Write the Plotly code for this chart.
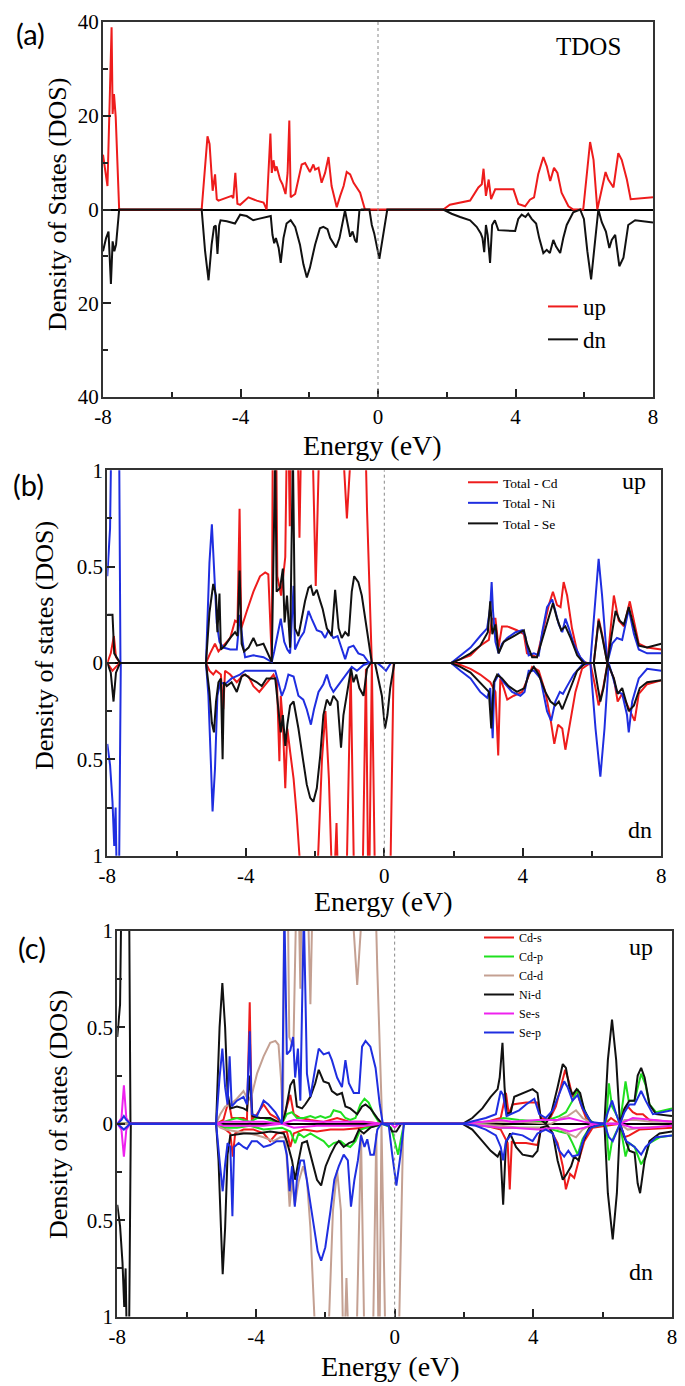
import plotly.graph_objects as go

W, H = 685, 1386
OX, OY = 8, 6  # page offset of the plot div (browser body margin)

# ---------------- data (energy eV, DOS magnitude) ----------------
# panel (a) total DOS
a_up = [(-8.0, 11.7), (-7.87, 5), (-7.75, 38.9), (-7.72, 20.4), (-7.68, 24.6), (-7.63, 19.7), (-7.53, 0),
        (-5.13, 0), (-4.96, 15.6), (-4.9, 14), (-4.81, 4), (-4.74, 7.5), (-4.69, 2.2), (-4.64, 1.9),
        (-4.26, 2.9), (-4.21, 2.4), (-4.15, 7.8), (-4.09, 1.2), (-4.01, 1.0), (-3.77, 2.6), (-3.53, 1.9),
        (-3.33, 1.5), (-3.24, 0), (-3.13, 16.2), (-3.09, 7.8), (-3.04, 10.5), (-2.99, 8.2), (-2.95, 9.2),
        (-2.85, 6.4), (-2.78, 5.4), (-2.69, 3.3), (-2.63, 7.8), (-2.58, 19), (-2.54, 2.6), (-2.41, 3.3),
        (-2.32, 6.4), (-2.22, 9.6), (-2.12, 9.9), (-1.98, 8), (-1.88, 9.6), (-1.83, 8.5), (-1.73, 8.9),
        (-1.64, 5.7), (-1.54, 7.8), (-1.44, 11.2), (-1.35, 5), (-1.25, 1.5), (-1.2, 0.5), (-1.1, 2.9),
        (-1.0, 5), (-0.91, 8), (-0.81, 7.5), (-0.71, 5.7), (-0.62, 4.7), (-0.52, 3.6), (-0.38, 0),
        (1.9, 0), (2.09, 1), (2.68, 1.9), (2.92, 4.7), (3.02, 5.4), (3.07, 8.7), (3.14, 2.9), (3.22, 6.4),
        (3.29, 2.2), (3.41, 4.3), (3.94, 4.3), (4.08, 1.2), (4.28, 0.7), (4.42, 2.1), (4.54, 2.6),
        (4.66, 7.5), (4.81, 11.2), (4.91, 9.2), (5.01, 6.1), (5.12, 8.9), (5.22, 7.8), (5.34, 3.6),
        (5.54, 0.7), (5.68, 0), (5.97, 0), (6.17, 14.4), (6.27, 10.6), (6.38, 0), (6.51, 4), (6.62, 8),
        (6.7, 6.4), (6.85, 4.7), (6.99, 12), (7.09, 10.6), (7.24, 6.4), (7.35, 2.2), (8.0, 2.6)]
a_dn = [(-8.0, 8.9), (-7.91, 6.1), (-7.84, 4.7), (-7.77, 15.9), (-7.72, 6.8), (-7.67, 8.9), (-7.62, 7.5),
        (-7.53, 0), (-5.13, 0), (-5.03, 8.9), (-4.93, 15.1), (-4.84, 7.5), (-4.77, 3.7), (-4.72, 3.4),
        (-4.67, 9.5), (-4.62, 3.4), (-4.58, 2.3), (-4.4, 2.5), (-4.16, 3.0), (-4.01, 1.1), (-3.82, 1.4),
        (-3.63, 2.3), (-3.48, 2.0), (-3.12, 1.4), (-3.07, 5.4), (-3.02, 7.2), (-2.97, 6.1), (-2.89, 8.2),
        (-2.83, 11.4), (-2.75, 6.1), (-2.66, 3.0), (-2.54, 2.3), (-2.41, 3.7), (-2.27, 7.5), (-2.17, 11.7),
        (-2.07, 14.5), (-1.98, 12.4), (-1.83, 7.5), (-1.69, 4.0), (-1.59, 3.7), (-1.47, 4.2), (-1.39, 6.1),
        (-1.22, 8.1), (-1.12, 6.1), (-0.96, 0.2), (-0.89, 2.7), (-0.81, 5.8), (-0.74, 4.7), (-0.67, 6.5),
        (-0.62, 7.0), (-0.54, 0.2), (-0.48, 0), (-0.25, 0), (-0.18, 3.3), (-0.11, 5.1), (0.04, 10.5),
        (0.16, 5.4), (0.27, 0), (1.9, 0), (2.14, 0.9), (2.39, 1.6), (2.68, 2.3), (2.87, 3.7), (2.99, 5.1),
        (3.04, 6.1), (3.09, 9.1), (3.14, 3.3), (3.19, 5.4), (3.26, 11.4), (3.32, 3.3), (3.40, 2.3),
        (3.50, 4.4), (3.99, 4.6), (4.08, 2.0), (4.18, 1.1), (4.29, 1.6), (4.37, 0.9), (4.47, 2.0), (4.6, 3.0),
        (4.69, 6.1), (4.81, 9.3), (4.91, 8.6), (5.0, 9.3), (5.1, 6.5), (5.18, 7.9), (5.3, 9.3), (5.39, 6.1),
        (5.49, 3.3), (5.68, 0.6), (5.88, 0), (5.99, 2.0), (6.09, 8.9), (6.2, 14.9), (6.29, 8.9), (6.41, 0),
        (6.51, 2.7), (6.63, 4.7), (6.73, 8.2), (6.8, 6.5), (6.9, 5.4), (7.02, 12.1), (7.14, 10.3),
        (7.28, 3.3), (7.48, 2.3), (7.72, 2.5), (8.0, 2.8)]

# panel (b) atom-resolved totals
cd_up = [(-8.0, 0.0), (-7.9, 0.05), (-7.81, 0.14), (-7.75, 0.03), (-7.63, 0.0), (-5.15, 0.0), (-5.03, 0.05),
         (-4.89, 0.1), (-4.79, 0.06), (-4.65, 0.09), (-4.45, 0.13), (-4.31, 0.22), (-4.24, 0.21), (-4.18, 0.8),
         (-4.13, 0.18), (-3.97, 0.27), (-3.78, 0.37), (-3.59, 0.45), (-3.44, 0.47), (-3.35, 0.46), (-3.3, 0.26),
         (-3.25, 0.02), (-3.21, 1.6), (-3.14, 1.6), (-3.09, 0.45), (-2.98, 0.35), (-2.86, 0.55), (-2.79, 1.5),
         (-2.73, 0.71), (-2.68, 1.6), (-2.55, 1.6), (-2.45, 0.65), (-2.36, 1.6), (-2.2, 1.6), (-2.08, 1.2),
         (-1.98, 0.4), (-1.87, 1.2), (-1.75, 1.6), (-1.45, 1.6), (-1.25, 1.3), (-1.08, 0.75), (-0.95, 1.3),
         (-0.8, 1.6), (-0.6, 1.6), (-0.5, 0.8), (-0.36, 0.0), (1.93, 0.0), (2.2, 0.02), (2.49, 0.04),
         (2.77, 0.09), (3.02, 0.12), (3.11, 0.23), (3.21, 0.23), (3.3, 0.08), (3.4, 0.19), (3.55, 0.19),
         (3.83, 0.17), (4.03, 0.15), (4.12, 0.05), (4.27, 0.04), (4.41, 0.03), (4.6, 0.18), (4.75, 0.3),
         (4.87, 0.37), (4.99, 0.3), (5.09, 0.29), (5.18, 0.42), (5.28, 0.35), (5.42, 0.18), (5.57, 0.06),
         (5.71, 0.01), (5.86, 0.0), (6.05, 0.0), (6.19, 0.23), (6.29, 0.15), (6.44, 0.0), (6.53, 0.18),
         (6.63, 0.35), (6.77, 0.22), (6.92, 0.19), (7.09, 0.32), (7.21, 0.22), (7.35, 0.1), (7.59, 0.08),
         (8.0, 0.07)]
cd_dn = [(-8.0, 0.0), (-7.85, 0.04), (-7.75, 0.02), (-7.63, 0.0), (-5.15, 0.0), (-5.05, 0.04), (-4.94, 0.06),
         (-4.86, 0.04), (-4.72, 0.06), (-4.65, 0.24), (-4.6, 0.04), (-4.45, 0.06), (-4.26, 0.1), (-4.07, 0.06),
         (-3.92, 0.07), (-3.78, 0.12), (-3.61, 0.15), (-3.44, 0.11), (-3.3, 0.08), (-3.2, 0.06), (-3.1, 0.1),
         (-3.03, 0.51), (-2.99, 0.17), (-2.93, 0.31), (-2.86, 0.65), (-2.8, 0.34), (-2.72, 0.46), (-2.62, 0.6),
         (-2.53, 0.79), (-2.43, 1.1), (-2.3, 1.4), (-2.0, 1.4), (-1.8, 0.5), (-1.7, 0.25), (-1.6, 0.6),
         (-1.48, 1.3), (-1.38, 0.83), (-1.3, 1.4), (-1.12, 1.4), (-0.97, 0.03), (-0.85, 1.4), (-0.65, 1.4),
         (-0.53, 0.03), (-0.45, 1.4), (-0.36, 0.0), (-0.28, 1.0), (-0.2, 1.4), (0.15, 1.4), (0.27, 0.0),
         (1.93, 0.0), (2.2, 0.01), (2.49, 0.03), (2.77, 0.06), (3.06, 0.1), (3.21, 0.15), (3.29, 0.48),
         (3.35, 0.08), (3.45, 0.13), (3.55, 0.19), (3.74, 0.17), (3.98, 0.15), (4.12, 0.09), (4.27, 0.02),
         (4.46, 0.04), (4.65, 0.15), (4.8, 0.29), (4.91, 0.42), (5.02, 0.32), (5.14, 0.34), (5.23, 0.45),
         (5.36, 0.32), (5.52, 0.15), (5.71, 0.03), (5.95, 0.0), (6.1, 0.13), (6.19, 0.22), (6.32, 0.13),
         (6.45, 0.0), (6.63, 0.08), (6.74, 0.2), (6.87, 0.16), (7.06, 0.23), (7.23, 0.3), (7.35, 0.16),
         (7.59, 0.11), (8.0, 0.09)]
ni_up = [(-8.0, 0.45), (-7.92, 0.7), (-7.86, 1.5), (-7.75, 2.0), (-7.66, 1.2), (-7.62, 0.0), (-5.15, 0.0),
         (-5.05, 0.52), (-4.98, 0.72), (-4.92, 0.52), (-4.84, 0.21), (-4.76, 0.11), (-4.65, 0.08), (-4.45, 0.07),
         (-4.26, 0.07), (-4.17, 0.25), (-4.09, 0.11), (-4.02, 0.03), (-3.78, 0.04), (-3.49, 0.03), (-3.25, 0.005),
         (-3.18, 0.06), (-3.1, 0.14), (-2.99, 0.23), (-2.89, 0.11), (-2.8, 0.07), (-2.72, 0.05), (-2.62, 0.4),
         (-2.58, 0.07), (-2.43, 0.13), (-2.32, 0.16), (-2.19, 0.27), (-2.1, 0.23), (-1.95, 0.17), (-1.81, 0.16),
         (-1.71, 0.13), (-1.61, 0.17), (-1.47, 0.13), (-1.35, 0.14), (-1.23, 0.07), (-1.13, 0.02), (-1.03, 0.08),
         (-0.89, 0.09), (-0.75, 0.05), (-0.6, 0.04), (-0.46, 0.005), (-0.36, 0.0), (1.93, 0.0), (2.2, 0.04),
         (2.49, 0.08), (2.77, 0.14), (2.97, 0.18), (3.06, 0.29), (3.1, 0.42), (3.14, 0.27), (3.21, 0.11),
         (3.3, 0.05), (3.4, 0.1), (3.55, 0.13), (3.79, 0.16), (3.98, 0.17), (4.07, 0.14), (4.17, 0.04),
         (4.32, 0.05), (4.46, 0.04), (4.56, 0.16), (4.7, 0.29), (4.85, 0.33), (4.94, 0.27), (5.04, 0.2),
         (5.14, 0.16), (5.23, 0.23), (5.33, 0.18), (5.47, 0.1), (5.66, 0.03), (5.81, 0.0), (5.95, 0.0),
         (6.1, 0.35), (6.19, 0.54), (6.29, 0.35), (6.44, 0.0), (6.58, 0.1), (6.72, 0.13), (6.87, 0.12),
         (7.06, 0.28), (7.21, 0.15), (7.35, 0.07), (7.59, 0.05), (8.0, 0.05)]
ni_dn = [(-8.0, 0.42), (-7.92, 0.53), (-7.85, 0.72), (-7.8, 0.95), (-7.76, 0.75), (-7.72, 1.2), (-7.66, 1.1),
         (-7.61, 0.0), (-5.15, 0.0), (-5.08, 0.17), (-5.01, 0.51), (-4.96, 0.77), (-4.89, 0.55), (-4.82, 0.17),
         (-4.74, 0.1), (-4.6, 0.11), (-4.41, 0.08), (-4.17, 0.06), (-4.02, 0.04), (-3.78, 0.04), (-3.49, 0.04),
         (-3.15, 0.04), (-3.06, 0.1), (-2.96, 0.17), (-2.87, 0.13), (-2.77, 0.06), (-2.62, 0.07), (-2.48, 0.17),
         (-2.34, 0.19), (-2.24, 0.24), (-2.12, 0.32), (-2.03, 0.24), (-1.9, 0.15), (-1.76, 0.11), (-1.66, 0.06),
         (-1.56, 0.12), (-1.47, 0.15), (-1.35, 0.12), (-1.23, 0.09), (-1.08, 0.05), (-0.94, 0.02), (-0.79, 0.04),
         (-0.6, 0.01), (-0.43, 0.0), (-0.2, 0.0), (-0.07, 0.02), (0.05, 0.04), (0.19, 0.0), (1.93, 0.0),
         (2.2, 0.04), (2.49, 0.08), (2.77, 0.15), (2.97, 0.18), (3.06, 0.13), (3.13, 0.39), (3.18, 0.1),
         (3.3, 0.06), (3.45, 0.1), (3.69, 0.15), (3.93, 0.17), (4.05, 0.15), (4.17, 0.04), (4.32, 0.04),
         (4.51, 0.08), (4.7, 0.25), (4.82, 0.3), (4.94, 0.2), (5.07, 0.15), (5.16, 0.16), (5.28, 0.12),
         (5.47, 0.06), (5.71, 0.01), (5.95, 0.0), (6.1, 0.34), (6.24, 0.59), (6.36, 0.34), (6.48, 0.0),
         (6.58, 0.06), (6.72, 0.15), (6.87, 0.16), (7.01, 0.27), (7.06, 0.36), (7.16, 0.2), (7.35, 0.08),
         (7.59, 0.03), (8.0, 0.04)]
se_up = [(-8.0, 0.25), (-7.85, 0.25), (-7.8, 0.05), (-7.7, 0.02), (-7.63, 0.0), (-5.15, 0.0), (-5.05, 0.26),
         (-4.94, 0.41), (-4.86, 0.35), (-4.82, 0.16), (-4.76, 0.36), (-4.72, 0.07), (-4.6, 0.09), (-4.45, 0.13),
         (-4.31, 0.16), (-4.24, 0.14), (-4.18, 0.48), (-4.12, 0.1), (-4.05, 0.06), (-3.92, 0.08), (-3.78, 0.13),
         (-3.68, 0.09), (-3.49, 0.1), (-3.25, 0.005), (-3.15, 1.1), (-3.11, 0.37), (-3.01, 0.39), (-2.93, 0.49),
         (-2.88, 0.21), (-2.81, 0.35), (-2.72, 0.08), (-2.64, 1.1), (-2.58, 0.18), (-2.48, 0.14), (-2.38, 0.23),
         (-2.29, 0.32), (-2.19, 0.39), (-2.12, 0.4), (-2.05, 0.35), (-1.95, 0.38), (-1.85, 0.32), (-1.78, 0.28),
         (-1.66, 0.18), (-1.52, 0.14), (-1.42, 0.38), (-1.32, 0.18), (-1.23, 0.13), (-1.13, 0.16), (-1.03, 0.14),
         (-0.94, 0.37), (-0.87, 0.45), (-0.75, 0.42), (-0.65, 0.35), (-0.51, 0.18), (-0.36, 0.0), (1.93, 0.0),
         (2.2, 0.02), (2.49, 0.05), (2.77, 0.09), (2.99, 0.16), (3.06, 0.32), (3.12, 0.15), (3.21, 0.2),
         (3.3, 0.05), (3.45, 0.11), (3.74, 0.14), (4.03, 0.17), (4.12, 0.1), (4.27, 0.03), (4.41, 0.03),
         (4.6, 0.15), (4.75, 0.24), (4.87, 0.31), (4.99, 0.23), (5.11, 0.17), (5.23, 0.19), (5.38, 0.13),
         (5.57, 0.04), (5.76, 0.0), (6.05, 0.0), (6.19, 0.22), (6.29, 0.14), (6.44, 0.0), (6.58, 0.16),
         (6.68, 0.27), (6.8, 0.22), (6.92, 0.2), (7.06, 0.29), (7.19, 0.2), (7.35, 0.09), (7.59, 0.08),
         (8.0, 0.1)]
se_dn = [(-8.0, 0.0), (-7.9, 0.05), (-7.82, 0.2), (-7.75, 0.05), (-7.68, 0.02), (-7.63, 0.0), (-5.15, 0.0),
         (-5.05, 0.15), (-4.98, 0.31), (-4.92, 0.36), (-4.86, 0.2), (-4.79, 0.1), (-4.72, 0.08), (-4.67, 0.5),
         (-4.63, 0.1), (-4.55, 0.12), (-4.41, 0.1), (-4.26, 0.15), (-4.12, 0.07), (-4.02, 0.06), (-3.88, 0.08),
         (-3.68, 0.1), (-3.54, 0.12), (-3.4, 0.08), (-3.15, 0.08), (-3.06, 0.24), (-2.99, 0.36), (-2.93, 0.27),
         (-2.86, 0.43), (-2.8, 0.32), (-2.72, 0.22), (-2.62, 0.2), (-2.48, 0.34), (-2.34, 0.51), (-2.24, 0.63),
         (-2.14, 0.7), (-2.05, 0.72), (-1.95, 0.65), (-1.85, 0.48), (-1.76, 0.27), (-1.66, 0.19), (-1.56, 0.22),
         (-1.47, 0.17), (-1.35, 0.2), (-1.25, 0.44), (-1.18, 0.27), (-1.08, 0.17), (-0.96, 0.03), (-0.89, 0.1),
         (-0.81, 0.06), (-0.72, 0.13), (-0.6, 0.17), (-0.5, 0.03), (-0.39, 0.0), (-0.27, 0.0), (-0.17, 0.08),
         (-0.07, 0.17), (0.02, 0.34), (0.09, 0.27), (0.17, 0.13), (0.29, 0.0), (1.93, 0.0), (2.2, 0.02),
         (2.49, 0.05), (2.77, 0.1), (3.02, 0.15), (3.09, 0.34), (3.16, 0.1), (3.26, 0.06), (3.4, 0.08),
         (3.59, 0.12), (3.83, 0.15), (4.05, 0.13), (4.17, 0.06), (4.32, 0.02), (4.46, 0.06), (4.65, 0.15),
         (4.8, 0.2), (4.94, 0.22), (5.04, 0.2), (5.14, 0.24), (5.23, 0.2), (5.38, 0.13), (5.57, 0.04),
         (5.81, 0.0), (6.05, 0.0), (6.17, 0.13), (6.24, 0.2), (6.33, 0.13), (6.45, 0.0), (6.63, 0.08),
         (6.74, 0.16), (6.87, 0.13), (7.06, 0.25), (7.21, 0.22), (7.38, 0.13), (7.59, 0.1), (8.0, 0.09)]

# panel (c) orbital-resolved
cds_up = [(-8.0, 0.0), (-7.63, 0.0), (-5.15, 0.0), (-4.94, 0.02), (-4.79, 0.12), (-4.7, 0.03), (-4.55, 0.03),
          (-4.36, 0.03), (-4.26, 0.02), (-4.18, 0.63), (-4.12, 0.02), (-3.97, 0.05), (-3.78, 0.1), (-3.59, 0.05),
          (-3.4, 0.03), (-3.25, 0.0), (-3.11, 0.09), (-3.01, 0.15), (-2.91, 0.05), (-2.72, 0.03), (-2.43, 0.02),
          (-2.05, 0.01), (-1.66, 0.03), (-1.47, 0.02), (-1.28, 0.01), (-0.89, 0.01), (-0.36, 0.0), (1.96, 0.0),
          (2.63, 0.01), (3.06, 0.03), (3.21, 0.16), (3.29, 0.05), (3.4, 0.1), (3.79, 0.11), (4.12, 0.11),
          (4.22, 0.03), (4.46, 0.02), (4.65, 0.09), (4.83, 0.21), (4.92, 0.28), (5.04, 0.21), (5.13, 0.14),
          (5.25, 0.17), (5.37, 0.1), (5.52, 0.03), (5.71, 0.0), (6.08, 0.0), (6.24, 0.03), (6.39, 0.01),
          (6.5, 0.0), (6.6, 0.07), (6.72, 0.09), (6.87, 0.06), (6.98, 0.05), (7.16, 0.05), (7.35, 0.02),
          (8.0, 0.01)]
cds_dn = [(-8.0, 0.0), (-7.63, 0.0), (-5.15, 0.0), (-4.94, 0.02), (-4.74, 0.05), (-4.67, 0.17), (-4.6, 0.05),
          (-4.36, 0.03), (-4.07, 0.03), (-3.78, 0.05), (-3.59, 0.09), (-3.4, 0.05), (-3.11, 0.04), (-3.01, 0.12),
          (-2.91, 0.05), (-2.62, 0.03), (-2.24, 0.04), (-1.85, 0.03), (-1.47, 0.03), (-0.89, 0.02), (-0.36, 0.0),
          (1.96, 0.0), (2.63, 0.01), (3.06, 0.03), (3.26, 0.1), (3.32, 0.34), (3.38, 0.09), (3.45, 0.1),
          (3.79, 0.1), (4.12, 0.11), (4.22, 0.03), (4.46, 0.02), (4.7, 0.1), (4.85, 0.22), (4.94, 0.34),
          (5.06, 0.26), (5.18, 0.28), (5.31, 0.19), (5.47, 0.09), (5.71, 0.02), (6.5, 0.0), (6.63, 0.07),
          (6.77, 0.06), (7.06, 0.03), (8.0, 0.02)]
cdp_up = [(-8.0, 0.0), (-7.63, 0.0), (-5.15, 0.0), (-4.94, 0.01), (-4.55, 0.03), (-4.17, 0.01), (-3.97, 0.03),
          (-3.78, 0.03), (-3.59, 0.02), (-3.25, 0.0), (-3.11, 0.05), (-2.96, 0.06), (-2.82, 0.03), (-2.62, 0.03),
          (-2.43, 0.04), (-2.29, 0.03), (-2.14, 0.04), (-2.0, 0.03), (-1.85, 0.04), (-1.76, 0.07), (-1.56, 0.06),
          (-1.42, 0.03), (-1.28, 0.02), (-1.13, 0.03), (-0.99, 0.1), (-0.87, 0.13), (-0.75, 0.11), (-0.6, 0.05),
          (-0.46, 0.01), (-0.36, 0.0), (1.96, 0.0), (2.92, 0.01), (3.13, 0.03), (3.59, 0.02), (4.27, 0.01),
          (4.56, 0.03), (4.75, 0.04), (4.94, 0.06), (5.13, 0.12), (5.28, 0.18), (5.42, 0.1), (5.57, 0.03),
          (5.76, 0.0), (6.1, 0.0), (6.18, 0.21), (6.27, 0.09), (6.39, 0.05), (6.5, 0.0), (6.66, 0.22),
          (6.75, 0.12), (6.92, 0.12), (7.11, 0.26), (7.24, 0.2), (7.35, 0.1), (7.54, 0.06), (8.0, 0.08)]
cdp_dn = [(-8.0, 0.0), (-7.63, 0.0), (-5.15, 0.0), (-4.94, 0.02), (-4.55, 0.02), (-4.17, 0.01), (-3.78, 0.03),
          (-3.25, 0.02), (-3.11, 0.03), (-3.01, 0.04), (-2.87, 0.1), (-2.77, 0.05), (-2.62, 0.07), (-2.43, 0.05),
          (-2.24, 0.07), (-2.05, 0.09), (-1.9, 0.12), (-1.76, 0.1), (-1.56, 0.09), (-1.42, 0.11), (-1.28, 0.12),
          (-1.13, 0.09), (-0.99, 0.03), (-0.8, 0.02), (-0.5, 0.01), (-0.36, 0.0), (-0.1, 0.02), (0.0, 0.09),
          (0.1, 0.16), (0.17, 0.09), (0.27, 0.0), (1.96, 0.0), (3.06, 0.02), (3.59, 0.02), (4.36, 0.02),
          (4.75, 0.04), (4.99, 0.05), (5.13, 0.1), (5.28, 0.16), (5.42, 0.08), (5.62, 0.02), (6.1, 0.0),
          (6.18, 0.19), (6.27, 0.09), (6.5, 0.0), (6.66, 0.17), (6.77, 0.1), (6.92, 0.12), (7.11, 0.21),
          (7.24, 0.17), (7.35, 0.1), (7.64, 0.07), (8.0, 0.06)]
cdd_up = [(-8.0, 0.0), (-7.63, 0.0), (-5.15, 0.0), (-5.03, 0.05), (-4.89, 0.09), (-4.74, 0.1), (-4.55, 0.13),
          (-4.36, 0.17), (-4.22, 0.12), (-4.12, 0.15), (-3.97, 0.26), (-3.78, 0.35), (-3.59, 0.42), (-3.44, 0.43),
          (-3.35, 0.41), (-3.28, 0.24), (-3.22, 0.0), (-3.18, 1.5), (-3.1, 1.5), (-3.04, 0.45), (-2.92, 0.4),
          (-2.8, 1.5), (-2.72, 0.7), (-2.66, 1.5), (-2.55, 1.5), (-2.43, 0.62), (-2.33, 1.5), (-1.5, 1.5),
          (-1.25, 1.2), (-1.08, 0.72), (-0.95, 1.2), (-0.8, 1.5), (-0.6, 1.5), (-0.5, 0.8), (-0.36, 0.0),
          (1.96, 0.0), (3.06, 0.01), (3.59, 0.01), (4.51, 0.0), (4.8, 0.03), (4.99, 0.04), (5.23, 0.07),
          (5.42, 0.03), (5.71, 0.0), (6.5, 0.0), (6.63, 0.02), (6.97, 0.02), (7.4, 0.01), (8.0, 0.01)]
cdd_dn = [(-8.0, 0.0), (-7.63, 0.0), (-5.15, 0.0), (-5.03, 0.02), (-4.89, 0.03), (-4.55, 0.04), (-4.17, 0.05),
          (-3.78, 0.07), (-3.49, 0.09), (-3.3, 0.07), (-3.15, 0.07), (-3.03, 0.43), (-2.96, 0.29), (-2.88, 0.42),
          (-2.77, 0.3), (-2.64, 0.22), (-2.53, 0.29), (-2.43, 0.54), (-2.33, 0.88), (-2.24, 1.3), (-1.95, 1.3),
          (-1.78, 0.45), (-1.66, 0.24), (-1.55, 0.45), (-1.47, 1.3), (-1.39, 0.8), (-1.3, 1.3), (-1.12, 1.3),
          (-0.97, 0.05), (-0.85, 1.4), (-0.65, 1.4), (-0.53, 0.05), (-0.45, 1.4), (-0.38, 0.0), (-0.25, 1.3),
          (0.1, 1.3), (0.25, 0.0), (1.96, 0.0), (3.06, 0.01), (3.59, 0.02), (4.51, 0.02), (4.8, 0.03),
          (4.99, 0.05), (5.23, 0.07), (5.42, 0.03), (5.71, 0.0), (6.5, 0.0), (6.72, 0.03), (7.11, 0.02),
          (8.0, 0.01)]
nid_up = [(-8.0, 0.45), (-7.92, 0.62), (-7.86, 1.5), (-7.75, 2.0), (-7.66, 1.2), (-7.62, 0.0), (-5.15, 0.0),
          (-5.05, 0.5), (-4.97, 0.73), (-4.89, 0.5), (-4.82, 0.16), (-4.74, 0.08), (-4.55, 0.09), (-4.36, 0.08),
          (-4.26, 0.07), (-4.18, 0.25), (-4.1, 0.04), (-3.88, 0.03), (-3.59, 0.03), (-3.25, 0.0), (-3.15, 0.06),
          (-3.01, 0.2), (-2.91, 0.23), (-2.82, 0.09), (-2.67, 0.08), (-2.58, 0.1), (-2.43, 0.14), (-2.29, 0.21),
          (-2.19, 0.28), (-2.05, 0.22), (-1.9, 0.21), (-1.81, 0.17), (-1.66, 0.15), (-1.52, 0.16), (-1.42, 0.09),
          (-1.28, 0.08), (-1.08, 0.05), (-0.94, 0.09), (-0.84, 0.1), (-0.7, 0.08), (-0.5, 0.03), (-0.36, 0.0),
          (1.96, 0.0), (2.24, 0.03), (2.53, 0.08), (2.77, 0.14), (2.97, 0.18), (3.03, 0.24), (3.11, 0.42),
          (3.17, 0.19), (3.23, 0.05), (3.35, 0.06), (3.45, 0.14), (3.69, 0.16), (3.98, 0.18), (4.12, 0.16),
          (4.22, 0.02), (4.36, 0.0), (4.51, 0.05), (4.7, 0.19), (4.85, 0.31), (4.94, 0.29), (5.04, 0.19),
          (5.13, 0.15), (5.25, 0.18), (5.35, 0.16), (5.47, 0.07), (5.66, 0.01), (5.81, 0.0), (6.05, 0.0),
          (6.15, 0.33), (6.27, 0.54), (6.39, 0.33), (6.5, 0.0), (6.63, 0.08), (6.77, 0.12), (6.92, 0.12),
          (7.01, 0.25), (7.11, 0.29), (7.21, 0.24), (7.35, 0.1), (7.54, 0.05), (8.0, 0.04)]
nid_dn = [(-8.0, 0.42), (-7.92, 0.53), (-7.85, 0.72), (-7.8, 0.95), (-7.76, 0.75), (-7.72, 1.2), (-7.66, 1.1),
          (-7.61, 0.0), (-5.15, 0.0), (-5.08, 0.19), (-5.01, 0.54), (-4.96, 0.78), (-4.89, 0.54), (-4.82, 0.16),
          (-4.74, 0.06), (-4.36, 0.05), (-3.97, 0.05), (-3.59, 0.04), (-3.2, 0.05), (-3.11, 0.09), (-2.96, 0.19),
          (-2.87, 0.29), (-2.77, 0.19), (-2.67, 0.1), (-2.53, 0.09), (-2.38, 0.19), (-2.24, 0.29), (-2.12, 0.32),
          (-1.99, 0.22), (-1.85, 0.16), (-1.71, 0.11), (-1.61, 0.09), (-1.47, 0.12), (-1.32, 0.1), (-1.18, 0.09),
          (-1.03, 0.03), (-0.89, 0.05), (-0.7, 0.02), (-0.36, 0.0), (-0.2, 0.0), (-0.07, 0.04), (0.05, 0.04),
          (0.19, 0.0), (1.96, 0.0), (2.24, 0.03), (2.53, 0.09), (2.77, 0.14), (2.97, 0.17), (3.05, 0.14),
          (3.13, 0.42), (3.21, 0.1), (3.33, 0.05), (3.5, 0.12), (3.69, 0.16), (3.98, 0.17), (4.12, 0.14),
          (4.22, 0.02), (4.41, 0.01), (4.56, 0.05), (4.7, 0.19), (4.85, 0.29), (4.96, 0.26), (5.09, 0.22),
          (5.18, 0.17), (5.31, 0.19), (5.42, 0.1), (5.62, 0.02), (5.81, 0.0), (6.05, 0.0), (6.15, 0.36),
          (6.29, 0.6), (6.41, 0.36), (6.5, 0.0), (6.63, 0.07), (6.77, 0.14), (6.92, 0.15), (7.01, 0.31),
          (7.08, 0.36), (7.21, 0.19), (7.35, 0.09), (7.64, 0.05), (8.0, 0.04)]
ses_up = [(-8.0, 0.0), (-7.88, 0.03), (-7.81, 0.2), (-7.74, 0.03), (-7.63, 0.0), (-5.15, 0.0), (-4.94, 0.01),
          (-4.36, 0.01), (-3.78, 0.01), (-3.25, 0.0), (-2.91, 0.02), (-2.24, 0.01), (-1.47, 0.01), (-0.89, 0.01),
          (-0.36, 0.0), (1.96, 0.0), (3.06, 0.02), (3.4, 0.01), (4.12, 0.02), (4.7, 0.02), (5.04, 0.03),
          (5.47, 0.01), (5.81, 0.0), (6.5, 0.0), (6.87, 0.03), (7.35, 0.02), (8.0, 0.01)]
ses_dn = [(-8.0, 0.0), (-7.88, 0.03), (-7.81, 0.17), (-7.74, 0.03), (-7.63, 0.0), (-5.15, 0.0), (-4.94, 0.01),
          (-4.36, 0.01), (-3.78, 0.01), (-3.25, 0.0), (-2.91, 0.02), (-2.24, 0.01), (-1.47, 0.01), (-0.89, 0.01),
          (-0.36, 0.0), (-0.1, 0.0), (0.0, 0.02), (0.12, 0.0), (1.96, 0.0), (3.06, 0.02), (3.4, 0.02),
          (4.12, 0.03), (4.7, 0.02), (5.04, 0.04), (5.47, 0.02), (5.81, 0.0), (6.5, 0.0), (6.87, 0.02),
          (7.35, 0.02), (8.0, 0.01)]
sep_up = [(-8.0, 0.0), (-7.88, 0.02), (-7.81, 0.04), (-7.74, 0.02), (-7.63, 0.0), (-5.15, 0.0), (-5.05, 0.24),
          (-4.97, 0.39), (-4.89, 0.19), (-4.82, 0.1), (-4.76, 0.35), (-4.7, 0.09), (-4.55, 0.12), (-4.36, 0.14),
          (-4.26, 0.1), (-4.18, 0.48), (-4.12, 0.05), (-3.97, 0.04), (-3.78, 0.12), (-3.64, 0.1), (-3.44, 0.06),
          (-3.25, 0.0), (-3.18, 1.1), (-3.11, 0.36), (-3.01, 0.38), (-2.93, 0.45), (-2.87, 0.24), (-2.79, 0.39),
          (-2.72, 0.12), (-2.62, 1.1), (-2.53, 0.26), (-2.43, 0.14), (-2.29, 0.29), (-2.19, 0.39), (-2.05, 0.36),
          (-1.9, 0.37), (-1.81, 0.33), (-1.66, 0.24), (-1.52, 0.19), (-1.42, 0.33), (-1.32, 0.21), (-1.18, 0.16),
          (-1.03, 0.16), (-0.94, 0.4), (-0.84, 0.43), (-0.7, 0.4), (-0.55, 0.29), (-0.43, 0.1), (-0.34, 0.0),
          (1.96, 0.0), (2.63, 0.03), (2.92, 0.05), (3.06, 0.17), (3.13, 0.15), (3.23, 0.04), (3.35, 0.05),
          (3.59, 0.07), (3.79, 0.1), (4.03, 0.13), (4.17, 0.05), (4.36, 0.03), (4.56, 0.07), (4.75, 0.16),
          (4.89, 0.22), (4.99, 0.19), (5.13, 0.12), (5.28, 0.15), (5.42, 0.08), (5.66, 0.01), (6.05, 0.0),
          (6.15, 0.06), (6.27, 0.12), (6.39, 0.05), (6.5, 0.0), (6.63, 0.06), (6.77, 0.1), (6.92, 0.1),
          (7.11, 0.17), (7.24, 0.12), (7.45, 0.05), (8.0, 0.07)]
sep_dn = [(-8.0, 0.0), (-7.81, 0.03), (-7.63, 0.0), (-5.15, 0.0), (-5.05, 0.19), (-4.96, 0.35), (-4.89, 0.21),
          (-4.82, 0.1), (-4.74, 0.12), (-4.68, 0.48), (-4.63, 0.12), (-4.5, 0.1), (-4.36, 0.12), (-4.26, 0.13),
          (-4.12, 0.09), (-3.97, 0.09), (-3.78, 0.12), (-3.59, 0.11), (-3.4, 0.09), (-3.2, 0.09), (-3.11, 0.16),
          (-3.03, 0.35), (-2.96, 0.22), (-2.88, 0.43), (-2.82, 0.29), (-2.72, 0.19), (-2.62, 0.19), (-2.48, 0.36),
          (-2.33, 0.54), (-2.22, 0.66), (-2.12, 0.71), (-2.0, 0.64), (-1.85, 0.45), (-1.74, 0.29), (-1.61, 0.22),
          (-1.47, 0.16), (-1.35, 0.19), (-1.26, 0.43), (-1.16, 0.29), (-1.06, 0.19), (-0.97, 0.06), (-0.87, 0.12),
          (-0.79, 0.08), (-0.7, 0.16), (-0.6, 0.16), (-0.5, 0.03), (-0.39, 0.0), (-0.17, 0.01), (-0.07, 0.16),
          (0.05, 0.32), (0.17, 0.16), (0.27, 0.0), (1.96, 0.0), (2.34, 0.01), (2.63, 0.03), (2.92, 0.06),
          (3.06, 0.12), (3.13, 0.19), (3.21, 0.09), (3.4, 0.05), (3.69, 0.06), (3.98, 0.09), (4.12, 0.05),
          (4.36, 0.03), (4.56, 0.05), (4.75, 0.14), (4.89, 0.17), (5.01, 0.14), (5.13, 0.17), (5.31, 0.16),
          (5.47, 0.07), (5.66, 0.02), (6.05, 0.0), (6.18, 0.07), (6.29, 0.09), (6.39, 0.05), (6.5, 0.0),
          (6.68, 0.09), (6.92, 0.12), (7.11, 0.16), (7.24, 0.12), (7.54, 0.07), (8.0, 0.06)]

x_ticks = [-8, -4, 0, 4, 8]
x_minor = [-6, -2, 2, 6]
a_yticks = [-40, -20, 0, 20, 40]
a_yminor = [-30, -10, 10, 30]
bc_yticks = [-1, -0.5, 0, 0.5, 1]
bc_yminor = [-0.75, -0.25, 0.25, 0.75]

RED, BLUE, GREEN, ROSY, MAG, BLK = "#ee1c1c", "#1f2ee0", "#1fe01f", "#c4a092", "#ee22ee", "#111111"
SERIF = "Liberation Serif, Times New Roman, Times, serif"


# page pixel -> paper fraction
def px(x):
    return (x - OX) / W


def py(y):
    return 1 - (y - OY) / H


def add_pair(fig, up, dn, color, name, xa, ya, leg, width=2.0):
    # up channel drawn positive, dn channel mirrored below zero
    fig.add_trace(go.Scatter(x=[p[0] for p in up], y=[p[1] for p in up], mode="lines",
                             line=dict(color=color, width=width), name=name,
                             xaxis=xa, yaxis=ya, legend=leg, showlegend=True))
    fig.add_trace(go.Scatter(x=[p[0] for p in dn], y=[-p[1] for p in dn], mode="lines",
                             line=dict(color=color, width=width), name=name,
                             xaxis=xa, yaxis=ya, legend=leg, showlegend=False))


fig = go.Figure()

# (a)
fig.add_trace(go.Scatter(x=[p[0] for p in a_up], y=[p[1] for p in a_up], mode="lines",
                         line=dict(color=RED, width=2), name="up", xaxis="x", yaxis="y", legend="legend"))
fig.add_trace(go.Scatter(x=[p[0] for p in a_dn], y=[-p[1] for p in a_dn], mode="lines",
                         line=dict(color=BLK, width=2), name="dn", xaxis="x", yaxis="y", legend="legend"))

# (b)
add_pair(fig, cd_up, cd_dn, RED, "Total - Cd", "x2", "y2", "legend2")
add_pair(fig, ni_up, ni_dn, BLUE, "Total - Ni", "x2", "y2", "legend2")
add_pair(fig, se_up, se_dn, BLK, "Total - Se", "x2", "y2", "legend2")

# (c)
add_pair(fig, cds_up, cds_dn, RED, "Cd-s", "x3", "y3", "legend3")
add_pair(fig, cdp_up, cdp_dn, GREEN, "Cd-p", "x3", "y3", "legend3")
add_pair(fig, cdd_up, cdd_dn, ROSY, "Cd-d", "x3", "y3", "legend3")
add_pair(fig, nid_up, nid_dn, BLK, "Ni-d", "x3", "y3", "legend3")
add_pair(fig, ses_up, ses_dn, MAG, "Se-s", "x3", "y3", "legend3")
add_pair(fig, sep_up, sep_dn, BLUE, "Se-p", "x3", "y3", "legend3")

tickfont = dict(family=SERIF, size=21, color="black")


def xax(dom, anchor):
    return dict(domain=[px(dom[0]), px(dom[1])], anchor=anchor, range=[-8, 8], automargin=False,
                tickmode="array", tickvals=x_ticks, ticktext=[str(v) for v in x_ticks],
                ticks="inside", ticklen=8, tickwidth=1.5, tickcolor="#222",
                minor=dict(tickmode="array", tickvals=x_minor, ticks="inside", ticklen=5,
                           tickwidth=1.5, tickcolor="#222"),
                showline=True, linecolor="#333", linewidth=2, mirror=True,
                showgrid=False, zeroline=False, tickfont=tickfont, ticklabeloverflow="allow")


def yax(dom, anchor, rng, tv, tt, mv):
    return dict(domain=[py(dom[1]), py(dom[0])], anchor=anchor, range=rng, automargin=False,
                tickmode="array", tickvals=tv, ticktext=tt,
                ticks="inside", ticklen=8, tickwidth=1.5, tickcolor="#222",
                minor=dict(tickmode="array", tickvals=mv, ticks="inside", ticklen=5,
                           tickwidth=1.5, tickcolor="#222"),
                showline=True, linecolor="#333", linewidth=2, mirror=True,
                showgrid=False, zeroline=True, zerolinecolor="black", zerolinewidth=2,
                tickfont=tickfont, ticklabelstandoff=-2, ticklabeloverflow="allow")


fig.update_layout(
    width=W, height=H,
    margin=dict(l=0, r=0, t=0, b=0, pad=0, autoexpand=False),
    paper_bgcolor="white", plot_bgcolor="white",
    xaxis=xax((103, 653), "y"),
    yaxis=yax((20, 395), "x", [-40, 40], a_yticks, ["40", "20", "0", "20", "40"], a_yminor),
    xaxis2=xax((107.3, 661.3), "y2"),
    yaxis2=yax((468.3, 853.7), "x2", [-1, 1], bc_yticks, ["1", "0.5", "0", "0.5", "1"], bc_yminor),
    xaxis3=xax((117.3, 672), "y3"),
    yaxis3=yax((929, 1314.6), "x3", [-1, 1], bc_yticks, ["1", "0.5", "0", "0.5", "1"], bc_yminor),
    legend=dict(x=px(543), y=py(283), xanchor="left", yanchor="top", bgcolor="rgba(0,0,0,0)",
                font=dict(family=SERIF, size=23, color="black")),
    legend2=dict(x=px(463), y=py(465), xanchor="left", yanchor="top", bgcolor="rgba(0,0,0,0)",
                 font=dict(family=SERIF, size=13.5, color="black")),
    legend3=dict(x=px(479), y=py(921), xanchor="left", yanchor="top", bgcolor="rgba(0,0,0,0)",
                 font=dict(family=SERIF, size=12, color="black")),
)

# dotted Fermi level in every panel
for xa, ya in [("x", "y"), ("x2", "y2"), ("x3", "y3")]:
    fig.add_shape(type="line", xref=xa, yref=ya + " domain", x0=0, x1=0, y0=0, y1=1,
                  line=dict(color="#888", width=1, dash="dot"))

# texts
texts = [
    ("(a)", 30, 32, dict(family="Lato", size=29, color="black"), 0),
    ("(b)", 28, 482, dict(family="Lato", size=29, color="black"), 0),
    ("(c)", 32, 945, dict(family="Lato", size=29, color="black"), 0),
    ("TDOS", 588, 45, dict(family=SERIF, size=25, color="black"), 0),
    ("up", 634, 479, dict(family=SERIF, size=24, color="black"), 0),
    ("dn", 640, 828, dict(family=SERIF, size=24, color="black"), 0),
    ("up", 641, 945, dict(family=SERIF, size=24, color="black"), 0),
    ("dn", 641, 1270, dict(family=SERIF, size=24, color="black"), 0),
    ("Energy (eV)", 372, 443, dict(family=SERIF, size=28, color="black"), 0),
    ("Energy (eV)", 383, 899, dict(family=SERIF, size=28, color="black"), 0),
    ("Energy (eV)", 390, 1364, dict(family=SERIF, size=28, color="black"), 0),
    ("Density of States (DOS)", 58, 203, dict(family=SERIF, size=26, color="black"), -90),
    ("Density of states (DOS)", 45, 644, dict(family=SERIF, size=26, color="black"), -90),
    ("Density of states (DOS)", 58, 1113, dict(family=SERIF, size=26, color="black"), -90),
]
for t, x, y, f, ang in texts:
    fig.add_annotation(text=t, x=px(x), y=py(y), xref="paper", yref="paper", showarrow=False,
                       xanchor="center", yanchor="middle", font=f, textangle=ang)

fig.write_html("out.html")
